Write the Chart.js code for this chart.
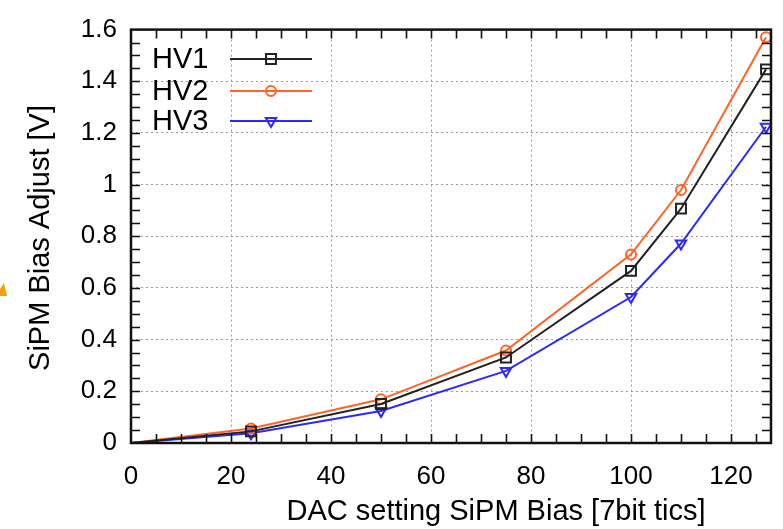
<!DOCTYPE html>
<html>
<head>
<meta charset="utf-8">
<script src="https://cdn.jsdelivr.net/npm/chart.js@4.4.0/dist/chart.umd.min.js"></script>
<style>
  body { margin: 0; background: #fff; }
  #wrap { width: 783px; height: 529px; position: relative; }
</style>
</head>
<body>
<div id="wrap"><canvas id="sipmChart"></canvas></div>
<script>
// datos
const dacSetting = [0, 24, 50, 75, 100, 110, 127];
const hv1 = [0, 0.045, 0.151, 0.331, 0.666, 0.907, 1.446];
const hv2 = [0, 0.056, 0.169, 0.358, 0.730, 0.979, 1.570];
const hv3 = [0, 0.038, 0.124, 0.279, 0.565, 0.772, 1.224];
const seriesNames = ['HV1', 'HV2', 'HV3'];
const xTitle = 'DAC setting SiPM Bias [7bit tics]';
const yTitle = 'SiPM Bias Adjust [V]';

const FONT = "'Liberation Sans', Arial, sans-serif";

function toPoints(ys) {
  return dacSetting.map((x, i) => ({ x: x, y: ys[i] }));
}

function makeSet(label, ys, color, style, rot, size) {
  return {
    label: label,
    data: toPoints(ys),
    borderColor: color,
    backgroundColor: 'transparent',
    borderWidth: 2,
    pointStyle: style,
    pointRotation: rot,
    markerSize: size,
    pointRadius: ctx => (ctx.dataIndex === 0 ? 0 : size),
    pointBorderWidth: 2,
    pointBorderColor: color,
    pointBackgroundColor: 'transparent',
    tension: 0,
    fill: false
  };
}

// marco, marcas hacia dentro, leyenda, titulos
const framePlugin = {
  id: 'frame',
  afterDraw(chart) {
    const ctx = chart.ctx;
    const a = chart.chartArea;
    const xs = chart.scales.x, ys = chart.scales.y;
    ctx.save();
    ctx.strokeStyle = '#111';
    ctx.lineWidth = 1.6;
    ctx.beginPath();
    for (let v = 5; v < 128; v += 5) {
      const px = Math.round(xs.getPixelForValue(v)) + 0.5;
      ctx.moveTo(px, a.bottom); ctx.lineTo(px, a.bottom - 9);
      ctx.moveTo(px, a.top); ctx.lineTo(px, a.top + 9);
    }
    for (let i = 1; i < 32; i++) {
      const py = Math.round(ys.getPixelForValue(i * 0.05)) + 0.5;
      ctx.moveTo(a.left, py); ctx.lineTo(a.left + 9, py);
      ctx.moveTo(a.right, py); ctx.lineTo(a.right - 9, py);
    }
    ctx.stroke();
    ctx.lineWidth = 2.5;
    ctx.strokeRect(a.left, a.top, a.right - a.left, a.bottom - a.top);

    // leyenda
    ctx.font = '29px ' + FONT;
    ctx.textBaseline = 'middle';
    ctx.textAlign = 'left';
    const rows = [59, 91, 121];
    chart.data.datasets.forEach((ds, i) => {
      const y = rows[i];
      ctx.fillStyle = '#000';
      ctx.fillText(seriesNames[i], 152, y + 1);
      ctx.strokeStyle = ds.borderColor;
      ctx.lineWidth = 2;
      ctx.beginPath();
      ctx.moveTo(230, y); ctx.lineTo(312, y);
      ctx.stroke();
      ctx.fillStyle = 'rgba(0,0,0,0)';
      Chart.helpers.drawPoint(ctx, {
        pointStyle: ds.pointStyle, radius: ds.markerSize, rotation: ds.pointRotation, borderWidth: 2
      }, 271, y);
    });

    // titulos de ejes
    ctx.fillStyle = '#000';
    ctx.font = '29px ' + FONT;
    ctx.textAlign = 'center';
    ctx.fillText(xTitle, 496, 512);
    ctx.translate(41, 238);
    ctx.rotate(-Math.PI / 2);
    ctx.fillText(yTitle, 0, 0);
    ctx.setTransform(1, 0, 0, 1, 0, 0);

    // triangulo naranja en el borde
    ctx.fillStyle = '#f5a000';
    ctx.beginPath();
    ctx.moveTo(0, 296); ctx.lineTo(7, 296); ctx.lineTo(4, 283); ctx.lineTo(0, 289);
    ctx.closePath();
    ctx.fill();
    ctx.restore();
  }
};

var ctx = document.getElementById('sipmChart').getContext('2d');
var chart = new Chart(ctx, {
  type: 'line',
  data: {
    datasets: [
      makeSet('HV1', hv1, '#222222', 'rect', 0, 7),
      makeSet('HV2', hv2, '#ff6426', 'circle', 0, 5),
      makeSet('HV3', hv3, '#2a2aff', 'triangle', 180, 6)
    ]
  },
  options: {
    responsive: true,
    maintainAspectRatio: false,
    animation: false,
    layout: { padding: { top: 18, right: 12, left: 0, bottom: 0 } },
    plugins: { legend: { display: false }, tooltip: { enabled: false } },
    scales: {
      x: {
        type: 'linear',
        min: 0,
        max: 128,
        afterFit: s => { s.height = 86; },
        grid: { color: '#9a9a9a', lineWidth: 1, drawTicks: false },
        border: { display: false, dash: [2, 3] },
        ticks: {
          stepSize: 20,
          includeBounds: false,
          maxRotation: 0,
          padding: 18,
          color: '#000',
          font: { family: FONT, size: 26 }
        }
      },
      y: {
        min: 0,
        max: 1.6,
        afterFit: s => { s.width = 131; },
        grid: { color: '#9a9a9a', lineWidth: 1, drawTicks: false },
        border: { display: false, dash: [2, 3] },
        ticks: {
          stepSize: 0.2,
          padding: 14,
          color: '#000',
          font: { family: FONT, size: 26 },
          callback: v => String(Number(v.toFixed(1)))
        }
      }
    }
  },
  plugins: [framePlugin]
});
</script>
</body>
</html>
